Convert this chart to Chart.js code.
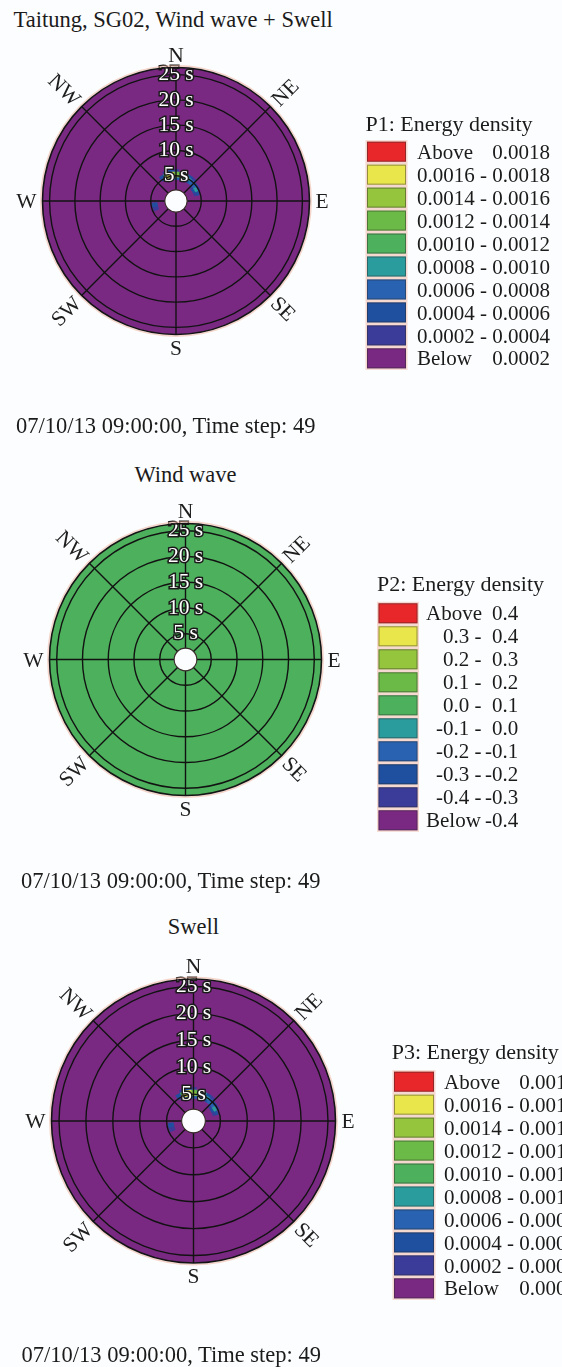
<!DOCTYPE html>
<html lang="en">
<head>
<meta charset="utf-8">
<title>Taitung, SG02 directional wave spectra</title>
<script src="https://cdn.jsdelivr.net/npm/chart.js@4.4.1/dist/chart.umd.min.js"></script>
<style>
  html, body { margin: 0; padding: 0; background: #fcfdfe; }
  #page { position: relative; width: 562px; height: 1367px; overflow: hidden; background: #fcfdfe;
          font-family: "Liberation Serif", "Times New Roman", serif; color: #1b1b1b; }
  .caption { position: absolute; white-space: nowrap; font-size: 22.5px; line-height: 22.5px; }
  .centered { transform: translateX(-50%); }
  canvas { position: absolute; left: 0; }
</style>
</head>
<body>
<div id="page">
  <div class="caption" style="left:13.5px; top:9px;">Taitung, SG02, Wind wave + Swell</div>
  <canvas id="p1" width="562" height="420" style="top:0px"></canvas>
  <div class="caption" style="left:16px; top:415px;">07/10/13 09:00:00, Time step: 49</div>
  <div class="caption centered" style="left:185.5px; top:463.5px;">Wind wave</div>
  <canvas id="p2" width="562" height="440" style="top:440px"></canvas>
  <div class="caption" style="left:21px; top:870px;">07/10/13 09:00:00, Time step: 49</div>
  <div class="caption centered" style="left:193.3px; top:915.5px;">Swell</div>
  <canvas id="p3" width="562" height="467" style="top:900px"></canvas>
  <div class="caption" style="left:21.5px; top:1343.5px;">07/10/13 09:00:00, Time step: 49</div>
</div>
<script>
// Compass sectors of the radial axis, clockwise from north
const directions = ['N', 'NE', 'E', 'SE', 'S', 'SW', 'W', 'NW'];
// Period rings labelled on the north spoke (s)
const periodTicks = [5, 10, 15, 20, 25];
const periodAxisMin = 0;     // axis origin
const periodInner = 2.2;     // shortest resolved period (inner hole)
const periodOuter = 26.4;    // longest resolved period (rim)

// Colour classes, lowest to highest
const classColors = ['#7a2983', '#3b3c9a', '#1f4f9f', '#2862b0', '#2b9c9d',
                     '#4db05c', '#6bb946', '#95c43d', '#e9e64b', '#e8272b'];

// Class limits of the three energy density legends
const p1Breaks = ['0.0002', '0.0004', '0.0006', '0.0008', '0.0010', '0.0012', '0.0014', '0.0016', '0.0018'];
const p2Breaks = ['-0.4', '-0.3', '-0.2', '-0.1', '0.0', '0.1', '0.2', '0.3', '0.4'];
const p3Breaks = ['0.0002', '0.0004', '0.0006', '0.0008', '0.0010', '0.0012', '0.0014', '0.0016', '0.0018'];

// Spectral cells holding energy at this time step: direction (deg), period (s)
const dirStep = 10;
const periodStep = 0.5;
const cellDirection = [330, 330,
                       340, 340, 340, 340,
                       350, 350, 350, 350,
                       0, 0, 0, 0,
                       10, 10, 10,
                       20, 20, 20,
                       30, 30, 30,
                       40, 40, 40,
                       50, 50, 50,
                       60, 60, 60,
                       70, 70,
                       250, 250, 260, 260];
const cellPeriod = [5.0, 5.5,
                    4.5, 5.0, 5.5, 6.0,
                    4.5, 5.0, 5.5, 6.0,
                    4.5, 5.0, 5.5, 6.0,
                    4.5, 5.0, 5.5,
                    4.5, 5.0, 5.5,
                    4.5, 5.0, 5.5,
                    4.5, 5.0, 5.5,
                    4.0, 4.5, 5.0,
                    4.0, 4.5, 5.0,
                    4.0, 4.5,
                    4.0, 4.5, 4.0, 4.5];
const swellEnergy = [0.00040, 0.00045,
                     0.00060, 0.00160, 0.00110, 0.00030,
                     0.00080, 0.00170, 0.00160, 0.00040,
                     0.00070, 0.00150, 0.00120, 0.00030,
                     0.00060, 0.00130, 0.00100,
                     0.00050, 0.00110, 0.00080,
                     0.00050, 0.00090, 0.00050,
                     0.00060, 0.00070, 0.00030,
                     0.00030, 0.00070, 0.00050,
                     0.00050, 0.00080, 0.00030,
                     0.00030, 0.00040,
                     0.00030, 0.00030, 0.00040, 0.00050];
// No wind-sea energy anywhere at this step, so the total equals the swell
const windWaveEnergy = [];
const totalEnergy = swellEnergy;

const FONT = '"Liberation Serif", "Times New Roman", serif';
Chart.defaults.font.family = FONT;

const toRad = (deg) => deg * Math.PI / 180;
const labelTilt = [0, -45, 0, 45, 0, -45, 0, 45];

function bearingAngle(scale, deg) {
  return scale.getIndexAngle(0) + toRad(deg) - Math.PI / 2;
}

function classOf(value, breaks) {
  let k = 0;
  breaks.forEach((b) => { if (value >= parseFloat(b) - 1e-12) k++; });
  return k;
}

function ringSector(ctx, scale, d0, d1, t0, t1) {
  const r0 = scale.getDistanceFromCenterForValue(t0);
  const r1 = scale.getDistanceFromCenterForValue(t1);
  const a0 = bearingAngle(scale, d0);
  const a1 = bearingAngle(scale, d1);
  ctx.beginPath();
  ctx.arc(scale.xCenter, scale.yCenter, r1, a0, a1);
  ctx.arc(scale.xCenter, scale.yCenter, r0, a1, a0, true);
  ctx.closePath();
}

function legendRows(breaks) {
  const n = breaks.length;
  const rows = [{ word: 'Above', hi: breaks[n - 1], color: classColors[n] }];
  for (let k = n - 1; k >= 1; k--) {
    rows.push({ lo: breaks[k - 1], hi: breaks[k], color: classColors[k] });
  }
  rows.push({ word: 'Below', hi: breaks[0], color: classColors[0] });
  return rows;
}

function panelPlugin(panel) {
  return {
    id: 'panel_' + panel.id,
    beforeDatasetsDraw(chart) {
      const scale = chart.scales.r;
      const ctx = chart.ctx;
      ctx.save();
      // calm sea: every cell without energy falls in the class of zero
      ringSector(ctx, scale, 0, 360, periodAxisMin, periodOuter);
      ctx.fillStyle = classColors[classOf(0, panel.breaks)];
      ctx.fill();
      const order = panel.energy.map((e, i) => i).sort((a, b) => panel.energy[a] - panel.energy[b]);
      order.forEach((i) => {
        const c = classColors[classOf(panel.energy[i], panel.breaks)];
        ringSector(ctx, scale,
          cellDirection[i] - dirStep / 2, cellDirection[i] + dirStep / 2,
          cellPeriod[i] - periodStep / 2, cellPeriod[i] + periodStep / 2);
        ctx.fillStyle = c;
        ctx.fill();
        ctx.strokeStyle = c;
        ctx.lineWidth = 0.7;
        ctx.stroke();
      });
      ctx.restore();
    },
    afterDraw(chart) {
      const scale = chart.scales.r;
      const ctx = chart.ctx;
      const cx = scale.xCenter, cy = scale.yCenter;
      const rim = scale.getDistanceFromCenterForValue(periodOuter);
      const hole = scale.getDistanceFromCenterForValue(periodInner);
      ctx.save();
      // inner hole
      ctx.beginPath();
      ctx.arc(cx, cy, hole, 0, Math.PI * 2);
      ctx.fillStyle = '#fcfdfe';
      ctx.fill();
      ctx.strokeStyle = '#3a2b2b';
      ctx.lineWidth = 1.1;
      ctx.stroke();
      // rim
      ctx.beginPath();
      ctx.arc(cx, cy, rim + 1.6, 0, Math.PI * 2);
      ctx.strokeStyle = 'rgba(238,180,160,0.55)';
      ctx.lineWidth = 1.6;
      ctx.stroke();
      ctx.beginPath();
      ctx.arc(cx, cy, rim, 0, Math.PI * 2);
      ctx.strokeStyle = '#141414';
      ctx.lineWidth = 1.6;
      ctx.stroke();

      // compass names, diagonals tilted along their spokes
      const fs = 21.5;
      const cap = 0.66 * fs;
      ctx.font = `${fs}px ${FONT}`;
      ctx.fillStyle = '#1e1e1e';
      ctx.textAlign = 'center';
      ctx.textBaseline = 'alphabetic';
      directions.forEach((name, i) => {
        const w = ctx.measureText(name).width;
        const extent = (i === 0 || i === 4) ? cap : w;
        const p = scale.getPointPosition(i, rim + 6 + extent / 2);
        ctx.save();
        ctx.translate(p.x, p.y);
        ctx.rotate(toRad(labelTilt[i]));
        ctx.fillText(name, 0, cap / 2);
        ctx.restore();
      });

      // class legend
      const L = panel.legend;
      const dy = -panel.top;
      ctx.textAlign = 'left';
      ctx.font = `22px ${FONT}`;
      ctx.fillStyle = '#1b1b1b';
      ctx.fillText(L.title, L.titleX, L.titleY + dy + 0.34 * 22);
      ctx.font = `21px ${FONT}`;
      legendRows(panel.breaks).forEach((row, k) => {
        const yc = L.rowY + k * L.pitch + dy;
        const bx = L.boxX, by = yc - L.boxH / 2;
        ctx.fillStyle = 'rgba(238,180,160,0.5)';
        ctx.fillRect(bx - 1.5, by - 1.5, L.boxW + 3, L.boxH + 3);
        ctx.fillStyle = row.color;
        ctx.fillRect(bx, by, L.boxW, L.boxH);
        ctx.strokeStyle = 'rgba(40,40,40,0.45)';
        ctx.lineWidth = 1;
        ctx.strokeRect(bx + 0.5, by + 0.5, L.boxW - 1, L.boxH - 1);
        ctx.fillStyle = '#1b1b1b';
        const base = yc + 0.34 * 21;
        if (row.word) {
          ctx.textAlign = 'left';
          ctx.fillText(row.word, L.textX, base);
        } else {
          ctx.textAlign = 'right';
          ctx.fillText(row.lo, L.loRight, base);
          ctx.textAlign = 'center';
          ctx.fillText('-', L.sepX, base);
        }
        ctx.textAlign = 'right';
        ctx.fillText(row.hi, L.hiRight, base);
      });
      ctx.restore();
    }
  };
}

const panels = [
  { id: 'p1', top: 0, cx: 176, cy: 201, r: 133.5, energy: totalEnergy, breaks: p1Breaks,
    legend: { title: 'P1: Energy density', titleX: 365.5, titleY: 123.3, boxX: 367, boxW: 39, boxH: 20,
              rowY: 151.7, pitch: 22.96, textX: 417, loRight: 474.8, sepX: 483.6, hiRight: 550 } },
  { id: 'p2', top: 440, cx: 185.5, cy: 659.5, r: 136, energy: windWaveEnergy, breaks: p2Breaks,
    legend: { title: 'P2: Energy density', titleX: 377, titleY: 583.3, boxX: 378.5, boxW: 39, boxH: 20,
              rowY: 613.3, pitch: 23, textX: 426, loRight: 469.3, sepX: 478, hiRight: 518.3 } },
  { id: 'p3', top: 900, cx: 193.5, cy: 1121, r: 142, energy: swellEnergy, breaks: p3Breaks,
    legend: { title: 'P3: Energy density', titleX: 391.7, titleY: 1051.7, boxX: 394, boxW: 40, boxH: 20,
              rowY: 1081.7, pitch: 22.96, textX: 444, loRight: 501.8, sepX: 510.5, hiRight: 577 } }
];

panels.forEach((panel) => {
  new Chart(document.getElementById(panel.id), {
    type: 'radar',
    data: { labels: directions, datasets: [] },
    options: {
      responsive: false,
      animation: false,
      events: [],
      plugins: { legend: { display: false }, tooltip: { enabled: false } },
      scales: {
        r: {
          type: 'radialLinear',
          min: periodAxisMin,
          max: periodOuter,
          startAngle: 0,
          grid: { circular: true, color: '#121212', lineWidth: 1.4, z: 1 },
          angleLines: { display: true, color: '#121212', lineWidth: 1.4 },
          pointLabels: { display: false },
          ticks: {
            display: true,
            z: 2,
            color: '#ffffff',
            textStrokeColor: '#1a1a1a',
            textStrokeWidth: 3,
            showLabelBackdrop: false,
            font: { size: 21.5, family: FONT },
            callback: (v) => `${v} s`
          },
          afterBuildTicks(scale) {
            scale.min = periodAxisMin;
            scale.max = periodOuter;
            scale.ticks = [periodAxisMin, ...periodTicks].map((v) => ({ value: v }));
          },
          afterFit(scale) {
            scale.xCenter = panel.cx;
            scale.yCenter = panel.cy - panel.top;
            scale.drawingArea = panel.r;
          }
        }
      }
    },
    plugins: [panelPlugin(panel)]
  });
});
</script>
</body>
</html>
